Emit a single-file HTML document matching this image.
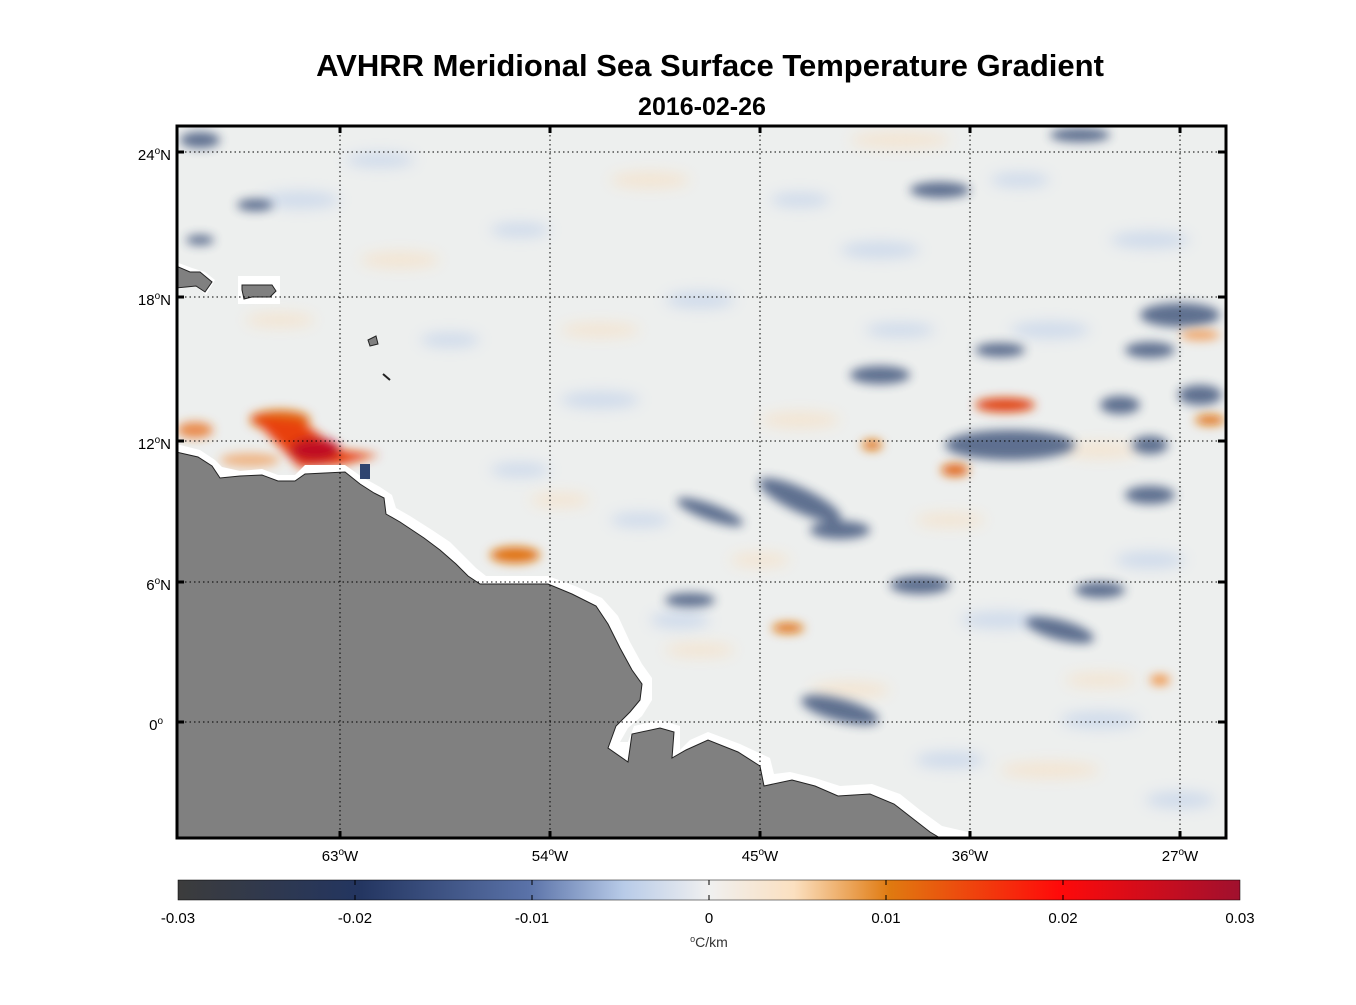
<!DOCTYPE html>
<html><head><meta charset="utf-8"><style>
body{margin:0;background:#fff;width:1356px;height:1000px;overflow:hidden;font-family:"Liberation Sans",Arial,sans-serif}
</style></head><body>
<svg width="1356" height="1000" xmlns="http://www.w3.org/2000/svg" font-family="Liberation Sans, Arial, sans-serif">
<defs>
<filter id="b" x="-50%" y="-50%" width="200%" height="200%"><feGaussianBlur stdDeviation="7"/></filter>
<filter id="b2" x="-50%" y="-50%" width="200%" height="200%"><feGaussianBlur stdDeviation="5"/></filter>
<clipPath id="c"><rect x="176" y="126" width="1050" height="712"/></clipPath>
<linearGradient id="cb" x1="0" x2="1">
<stop offset="0" stop-color="#3c3c3c"/>
<stop offset="0.17" stop-color="#233560"/>
<stop offset="0.33" stop-color="#5a72a8"/>
<stop offset="0.42" stop-color="#b8cbe8"/>
<stop offset="0.5" stop-color="#f0f0f0"/>
<stop offset="0.58" stop-color="#fbe0c0"/>
<stop offset="0.67" stop-color="#e07a10"/>
<stop offset="0.83" stop-color="#ff0a0a"/>
<stop offset="1" stop-color="#a0102e"/>
</linearGradient>
</defs>
<text x="710" y="76" font-size="31" font-weight="bold" text-anchor="middle">AVHRR Meridional Sea Surface Temperature Gradient</text>
<text x="702" y="115" font-size="25" font-weight="bold" text-anchor="middle">2016-02-26</text>
<g clip-path="url(#c)">
<rect x="176" y="126" width="1050" height="712" fill="#edefee"/>
<g filter="url(#b)" opacity="0.45" fill="#a8c0e8">
<ellipse cx="300" cy="200" rx="40" ry="8"/><ellipse cx="520" cy="230" rx="30" ry="7"/>
<ellipse cx="700" cy="300" rx="35" ry="8"/><ellipse cx="600" cy="400" rx="40" ry="8"/>
<ellipse cx="880" cy="250" rx="40" ry="8"/><ellipse cx="1050" cy="330" rx="40" ry="8"/>
<ellipse cx="1000" cy="620" rx="40" ry="8"/><ellipse cx="1100" cy="720" rx="40" ry="8"/>
<ellipse cx="680" cy="620" rx="30" ry="8"/><ellipse cx="450" cy="340" rx="30" ry="7"/>
<ellipse cx="800" cy="200" rx="30" ry="7"/><ellipse cx="1150" cy="240" rx="40" ry="8"/>
<ellipse cx="520" cy="470" rx="30" ry="7"/><ellipse cx="640" cy="520" rx="30" ry="7"/>
<ellipse cx="900" cy="330" rx="35" ry="7"/><ellipse cx="1150" cy="560" rx="35" ry="8"/>
<ellipse cx="950" cy="760" rx="35" ry="8"/><ellipse cx="1180" cy="800" rx="35" ry="8"/>
<ellipse cx="380" cy="160" rx="35" ry="7"/><ellipse cx="1020" cy="180" rx="30" ry="7"/>
</g>
<g filter="url(#b)" opacity="0.45" fill="#fbd8b0">
<ellipse cx="400" cy="260" rx="40" ry="8"/><ellipse cx="650" cy="180" rx="40" ry="8"/>
<ellipse cx="900" cy="140" rx="50" ry="8"/><ellipse cx="800" cy="420" rx="40" ry="8"/>
<ellipse cx="1100" cy="450" rx="40" ry="8"/><ellipse cx="1050" cy="770" rx="50" ry="8"/>
<ellipse cx="600" cy="330" rx="40" ry="7"/><ellipse cx="850" cy="690" rx="40" ry="8"/>
<ellipse cx="700" cy="650" rx="35" ry="7"/><ellipse cx="950" cy="520" rx="35" ry="7"/>
<ellipse cx="1100" cy="680" rx="35" ry="7"/><ellipse cx="560" cy="500" rx="30" ry="7"/>
<ellipse cx="280" cy="320" rx="35" ry="7"/><ellipse cx="760" cy="560" rx="30" ry="7"/>
</g>
<g filter="url(#b2)" fill="#2f4470" opacity="0.75">
<ellipse cx="200" cy="140" rx="20" ry="8"/><ellipse cx="255" cy="205" rx="18" ry="6"/>
<ellipse cx="200" cy="240" rx="14" ry="5"/><ellipse cx="940" cy="190" rx="30" ry="8"/>
<ellipse cx="880" cy="375" rx="30" ry="9"/><ellipse cx="1180" cy="315" rx="40" ry="12"/>
<ellipse cx="1200" cy="395" rx="22" ry="10"/><ellipse cx="1010" cy="445" rx="65" ry="15"/>
<ellipse cx="1120" cy="405" rx="20" ry="9"/><ellipse cx="1150" cy="445" rx="18" ry="9"/>
<ellipse cx="800" cy="500" rx="45" ry="12" transform="rotate(25 800 500)"/>
<ellipse cx="710" cy="512" rx="35" ry="8" transform="rotate(20 710 512)"/>
<ellipse cx="840" cy="530" rx="30" ry="9"/><ellipse cx="920" cy="585" rx="30" ry="9"/>
<ellipse cx="1060" cy="630" rx="35" ry="10" transform="rotate(15 1060 630)"/>
<ellipse cx="840" cy="710" rx="40" ry="11" transform="rotate(15 840 710)"/>
<ellipse cx="1100" cy="590" rx="25" ry="8"/><ellipse cx="1150" cy="495" rx="25" ry="9"/>
<ellipse cx="1080" cy="135" rx="30" ry="7"/><ellipse cx="1000" cy="350" rx="25" ry="7"/>
<ellipse cx="690" cy="600" rx="25" ry="7"/><ellipse cx="1150" cy="350" rx="25" ry="8"/>
</g>
<g filter="url(#b2)">
<ellipse cx="280" cy="420" rx="30" ry="10" fill="#e06a10"/>
<path d="M250 415 L300 420 L340 450 L380 455 L340 465 L300 468 Z" fill="#e84010"/>
<ellipse cx="315" cy="450" rx="25" ry="12" fill="#c01020"/>
<ellipse cx="195" cy="430" rx="18" ry="8" fill="#e87020" opacity="0.8"/>
<ellipse cx="250" cy="460" rx="30" ry="7" fill="#f09040" opacity="0.6"/>
<ellipse cx="515" cy="555" rx="25" ry="8" fill="#e07010"/>
<ellipse cx="1005" cy="405" rx="30" ry="7" fill="#e04010"/>
<ellipse cx="955" cy="470" rx="14" ry="6" fill="#e06010"/>
<ellipse cx="872" cy="445" rx="10" ry="5" fill="#e07010"/>
<ellipse cx="788" cy="628" rx="16" ry="5" fill="#e07010"/>
<ellipse cx="1210" cy="420" rx="15" ry="5" fill="#e07010"/>
<ellipse cx="1200" cy="335" rx="20" ry="5" fill="#f0a060"/>
<ellipse cx="1160" cy="680" rx="10" ry="5" fill="#f09040"/>
</g>
<path d="M176 444 L200 450 L215 460 L222 467 L240 471 L262 469 L278 475 L295 475 L305 465 L345 465 L362 477 L380 487 L392 495 L396 508 L410 516 L432 530 L450 542 L464 556 L476 568 L486 576 L548 576 L575 586 L602 598 L618 616 L630 642 L642 664 L652 678 L652 700 L642 716 L628 728 L620 742 L628 742 L634 726 L660 720 L680 726 L680 750 L690 740 L708 732 L740 744 L770 758 L774 774 L790 772 L815 778 L840 786 L872 784 L900 794 L920 810 L942 826 L968 832 L968 838 L176 838 Z" fill="#fff"/>
<path d="M176 452 L198 457 L212 466 L220 478 L240 476 L262 475 L278 481 L295 481 L305 474 L345 472 L360 484 L374 493 L384 498 L386 514 L400 522 L424 538 L440 550 L456 564 L468 576 L480 584 L548 584 L572 594 L596 606 L608 624 L620 648 L632 670 L642 684 L640 700 L630 712 L616 726 L608 748 L628 762 L632 734 L660 728 L674 732 L672 758 L686 750 L708 740 L738 752 L760 766 L764 786 L792 780 L815 786 L838 796 L870 794 L894 804 L912 818 L930 832 L940 838 L176 838 Z" fill="#808080" stroke="#222" stroke-width="1"/>
<path d="M176 262 L192 268 L205 272 L215 280 L206 295 L195 285 L176 290 Z" fill="#fff"/>
<path d="M176 266 L190 272 L200 272 L212 282 L205 292 L196 286 L176 288 Z" fill="#808080" stroke="#222"/>
<rect x="238" y="276" width="42" height="28" fill="#fff"/>
<path d="M242 285 L272 285 L276 291 L270 297 L252 297 L244 299 L242 290 Z" fill="#808080" stroke="#222"/>
<path d="M368 340 L376 336 L378 344 L370 346 Z" fill="#808080" stroke="#222"/>
<path d="M383 374 L390 380" stroke="#222" stroke-width="2"/>
<rect x="360" y="464" width="10" height="15" fill="#2f4470"/>
<g stroke="#000" stroke-width="1" stroke-dasharray="1.5,3">
<line x1="340" y1="126" x2="340" y2="838"/><line x1="550" y1="126" x2="550" y2="838"/>
<line x1="760" y1="126" x2="760" y2="838"/><line x1="970" y1="126" x2="970" y2="838"/>
<line x1="1180" y1="126" x2="1180" y2="838"/>
<line x1="176" y1="152" x2="1226" y2="152"/><line x1="176" y1="297" x2="1226" y2="297"/>
<line x1="176" y1="441" x2="1226" y2="441"/><line x1="176" y1="582" x2="1226" y2="582"/>
<line x1="176" y1="722" x2="1226" y2="722"/>
</g>
</g>
<rect x="177" y="126" width="1049" height="712" fill="none" stroke="#000" stroke-width="3"/>
<g stroke="#000" stroke-width="3">
<line x1="340" y1="126" x2="340" y2="133"/><line x1="550" y1="126" x2="550" y2="133"/><line x1="760" y1="126" x2="760" y2="133"/><line x1="970" y1="126" x2="970" y2="133"/><line x1="1180" y1="126" x2="1180" y2="133"/>
<line x1="340" y1="838" x2="340" y2="831"/><line x1="550" y1="838" x2="550" y2="831"/><line x1="760" y1="838" x2="760" y2="831"/><line x1="970" y1="838" x2="970" y2="831"/><line x1="1180" y1="838" x2="1180" y2="831"/>
<line x1="176" y1="152" x2="184" y2="152"/><line x1="176" y1="297" x2="184" y2="297"/><line x1="176" y1="441" x2="184" y2="441"/><line x1="176" y1="582" x2="184" y2="582"/><line x1="176" y1="722" x2="184" y2="722"/>
<line x1="1226" y1="152" x2="1218" y2="152"/><line x1="1226" y1="297" x2="1218" y2="297"/><line x1="1226" y1="441" x2="1218" y2="441"/><line x1="1226" y1="582" x2="1218" y2="582"/><line x1="1226" y1="722" x2="1218" y2="722"/>
</g>
<g font-size="15" text-anchor="end">
<text x="171" y="160">24<tspan dy="-6" font-size="10">o</tspan><tspan dy="6">N</tspan></text>
<text x="171" y="305">18<tspan dy="-6" font-size="10">o</tspan><tspan dy="6">N</tspan></text>
<text x="171" y="449">12<tspan dy="-6" font-size="10">o</tspan><tspan dy="6">N</tspan></text>
<text x="171" y="590">6<tspan dy="-6" font-size="10">o</tspan><tspan dy="6">N</tspan></text>
<text x="163" y="730">0<tspan dy="-6" font-size="10">o</tspan></text>
</g>
<g font-size="15" text-anchor="middle">
<text x="340" y="861">63<tspan dy="-6" font-size="10">o</tspan><tspan dy="6">W</tspan></text>
<text x="550" y="861">54<tspan dy="-6" font-size="10">o</tspan><tspan dy="6">W</tspan></text>
<text x="760" y="861">45<tspan dy="-6" font-size="10">o</tspan><tspan dy="6">W</tspan></text>
<text x="970" y="861">36<tspan dy="-6" font-size="10">o</tspan><tspan dy="6">W</tspan></text>
<text x="1180" y="861">27<tspan dy="-6" font-size="10">o</tspan><tspan dy="6">W</tspan></text>
</g>
<rect x="178" y="880" width="1062" height="20" fill="url(#cb)" stroke="#000" stroke-width="0.5"/>
<g stroke="#000" stroke-width="1">
<line x1="355" y1="900" x2="355" y2="895"/><line x1="532" y1="900" x2="532" y2="895"/><line x1="709" y1="900" x2="709" y2="895"/><line x1="886" y1="900" x2="886" y2="895"/><line x1="1063" y1="900" x2="1063" y2="895"/>
<line x1="355" y1="880" x2="355" y2="885"/><line x1="532" y1="880" x2="532" y2="885"/><line x1="709" y1="880" x2="709" y2="885"/><line x1="886" y1="880" x2="886" y2="885"/><line x1="1063" y1="880" x2="1063" y2="885"/>
</g>
<g font-size="15" text-anchor="middle">
<text x="178" y="923">-0.03</text><text x="355" y="923">-0.02</text><text x="532" y="923">-0.01</text><text x="709" y="923">0</text><text x="886" y="923">0.01</text><text x="1063" y="923">0.02</text><text x="1240" y="923">0.03</text>
<text x="709" y="947" font-size="14" fill="#333"><tspan dy="-5" font-size="9">o</tspan><tspan dy="5">C/km</tspan></text>
</g>
</svg>
</body></html>
